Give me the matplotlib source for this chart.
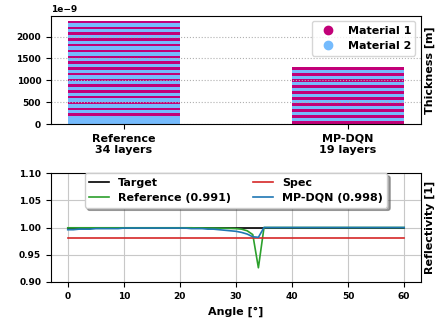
import matplotlib
matplotlib.use("Agg")
import matplotlib.pyplot as plt
from matplotlib.lines import Line2D

# layer thicknesses in metres, bottom to top
ref_layers = [190e-9,
              55e-9, 78e-9, 54e-9, 77e-9, 56e-9, 76e-9, 58e-9, 74e-9, 55e-9, 77e-9,
              54e-9, 78e-9, 56e-9, 76e-9, 57e-9, 75e-9, 55e-9, 77e-9, 54e-9, 78e-9,
              56e-9, 76e-9, 55e-9, 77e-9, 57e-9, 75e-9, 54e-9, 78e-9, 56e-9, 76e-9,
              55e-9, 77e-9, 58e-9]
ref_materials = [2] + [1, 2] * 16 + [1]

dqn_layers = [76e-9, 60e-9, 77e-9, 59e-9, 75e-9, 61e-9, 76e-9, 60e-9, 78e-9, 58e-9,
              76e-9, 60e-9, 77e-9, 59e-9, 75e-9, 61e-9, 76e-9, 60e-9, 76e-9]
dqn_materials = [1, 2] * 9 + [1]

bar_labels = ["Reference\n34 layers", "MP-DQN\n19 layers"]

angles = list(range(61))
target_angles = [0, 60]
target_vals = [1.0, 1.0]
spec_angles = [0, 60]
spec_vals = [0.98, 0.98]
ref_refl = [0.9995, 0.9995, 0.9995, 0.9995, 0.9995, 0.9995, 0.9995, 0.9995, 0.9995, 0.9995,
            0.9995, 0.9995, 0.9995, 0.9995, 0.9995, 0.9995, 0.9995, 0.9995, 0.9995, 0.9995,
            0.9995, 0.9995, 0.9995, 0.9993, 0.9992, 0.9990, 0.9990, 0.9988, 0.9986, 0.9984,
            0.998, 0.997, 0.994, 0.987, 0.926, 1.0, 1.0, 1.0, 1.0, 1.0,
            1.0, 1.0, 1.0, 1.0, 1.0, 1.0, 1.0, 1.0, 1.0, 1.0,
            1.0, 1.0, 1.0, 1.0, 1.0, 1.0, 1.0, 1.0, 1.0, 1.0, 1.0]
dqn_refl = [0.996, 0.996, 0.997, 0.997, 0.997, 0.998, 0.998, 0.998, 0.998, 0.998,
            0.999, 0.999, 0.999, 0.999, 0.999, 0.999, 0.999, 0.999, 0.999, 0.999,
            0.999, 0.999, 0.998, 0.998, 0.998, 0.997, 0.997, 0.996, 0.995, 0.994,
            0.993, 0.991, 0.988, 0.983, 0.982, 1.0, 1.0, 1.0, 1.0, 1.0,
            1.0, 1.0, 1.0, 1.0, 1.0, 1.0, 1.0, 1.0, 1.0, 1.0,
            1.0, 1.0, 1.0, 1.0, 1.0, 1.0, 1.0, 1.0, 1.0, 1.0, 1.0]

mat_colors = {1: "xkcd:magenta", 2: "xkcd:sky blue"}

plt.rcParams["font.weight"] = "bold"
plt.rcParams["axes.labelweight"] = "bold"
plt.rcParams["font.size"] = 8

fig = plt.figure(figsize=(4.39, 3.2), dpi=100)
ax1 = fig.add_axes([0.116, 0.6125, 0.843, 0.3385])
ax2 = fig.add_axes([0.116, 0.119, 0.843, 0.340])

# stacked layer bars
for pos, layers, mats in [(0, ref_layers, ref_materials), (1, dqn_layers, dqn_materials)]:
    bottom = 0.0
    for t, m in zip(layers, mats):
        ax1.bar(pos, t, width=0.5, bottom=bottom, color=mat_colors[m], linewidth=0)
        bottom += t

ax1.set_xticks([0, 1])
ax1.set_xticklabels(bar_labels, fontsize=8)
ax1.ticklabel_format(axis="y", style="sci", scilimits=(-9, -9))
ax1.yaxis.get_offset_text().set_fontsize(6.5)
ax1.tick_params(axis="y", labelsize=6.5)
ax1.yaxis.grid(True, linestyle=":", color="#b0b0b0")
ax1.yaxis.set_label_position("right")
ax1.set_ylabel("Thickness [m]", labelpad=3)
handles = [Line2D([], [], marker="o", linestyle="none", color=mat_colors[1], markersize=6),
           Line2D([], [], marker="o", linestyle="none", color=mat_colors[2], markersize=6)]
ax1.legend(handles, ["Material 1", "Material 2"], loc="upper right")

# reflectivity
ax2.plot(target_angles, target_vals, color="black", lw=1.2, label="Target")
ax2.plot(angles, ref_refl, color="tab:green", lw=1.2, label="Reference (0.991)")
ax2.plot(spec_angles, spec_vals, color="tab:red", lw=1.2, label="Spec")
ax2.plot(angles, dqn_refl, color="tab:blue", lw=1.2, label="MP-DQN (0.998)")
ax2.set_ylim(0.90, 1.10)
ax2.set_yticks([0.90, 0.95, 1.00, 1.05, 1.10])
ax2.yaxis.set_major_formatter(matplotlib.ticker.FormatStrFormatter("%.2f"))
ax2.tick_params(labelsize=6.5)
ax2.grid(True, color="#c8c8c8")
ax2.set_xlabel("Angle [°]")
ax2.yaxis.set_label_position("right")
ax2.set_ylabel("Reflectivity [1]", labelpad=3)
ax2.legend(loc="upper center", ncol=2, shadow=True, borderaxespad=0, framealpha=1,
           handlelength=1.8)

fig.savefig("out.png", dpi=100)
